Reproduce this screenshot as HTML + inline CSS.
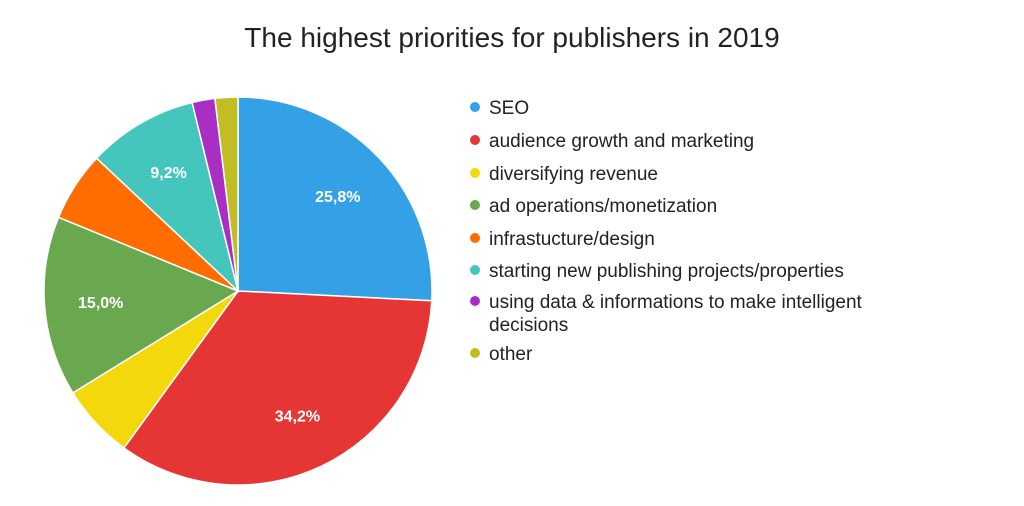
<!DOCTYPE html>
<html><head><meta charset="utf-8"><style>
body{margin:0;background:#fff;width:1024px;height:501px;overflow:hidden;font-family:"Liberation Sans",sans-serif}
</style></head><body>
<svg width="1024" height="501">
<text x="512" y="47" text-anchor="middle" font-size="28" fill="#222">The highest priorities for publishers in 2019</text>
<g id="slices"></g><g id="labels"></g><g id="legend"></g>
</svg>
<script>
const categories=["SEO","audience growth and marketing","diversifying revenue","ad operations/monetization","infrastucture/design","starting new publishing projects/properties","using data & informations to make intelligent decisions","other"];
const values=[25.8,34.2,6.2,15.0,5.8,9.2,1.9,1.9];
const labelText=["25,8%","34,2%","","15,0%","","9,2%","",""];
const colors=["#34a0e6","#e63535","#f3d80b","#6aa84f","#ff6d00","#45c6bc","#a92fc4","#c3bd24"];
const cx=238,cy=291,R=194,NS="http://www.w3.org/2000/svg";
const total=values.reduce((a,b)=>a+b,0);
const pt=(a,r)=>[cx+r*Math.sin(a),cy-r*Math.cos(a)];
let acc=0;
const sg=document.getElementById('slices'),lg=document.getElementById('labels');
values.forEach((v,i)=>{
  const a0=acc/total*2*Math.PI;acc+=v;const a1=acc/total*2*Math.PI;
  const [x0,y0]=pt(a0,R),[x1,y1]=pt(a1,R);
  const p=document.createElementNS(NS,'path');
  p.setAttribute('d',`M${cx},${cy}L${x0},${y0}A${R},${R} 0 ${a1-a0>Math.PI?1:0} 1 ${x1},${y1}Z`);
  p.setAttribute('fill',colors[i]);p.setAttribute('stroke','#fff');p.setAttribute('stroke-width','1.5');
  
  
  sg.appendChild(p);
  if(labelText[i]){
    const [lx,ly]=pt((a0+a1)/2,R*0.71);
    const t=document.createElementNS(NS,'text');
    t.setAttribute('x',lx);t.setAttribute('y',ly+6);t.setAttribute('text-anchor','middle');
    t.setAttribute('font-size','16');t.setAttribute('fill','#fff');t.setAttribute('font-weight','bold');
    t.textContent=labelText[i];
    
    
    lg.appendChild(t);
  }
});
const leg=document.getElementById('legend');
const rows=[[107],[140],[173],[205],[238],[270],[301,324],[353]];
categories.forEach((c,i)=>{
  const g=document.createElementNS(NS,'g');
  
  
  const d=document.createElementNS(NS,'circle');
  d.setAttribute('cx',475);d.setAttribute('cy',rows[i][0]);d.setAttribute('r',5);d.setAttribute('fill',colors[i]);
  g.appendChild(d);
  const lines=i===6?["using data & informations to make intelligent","decisions"]:[c];
  lines.forEach((l,j)=>{
    const t=document.createElementNS(NS,'text');
    t.setAttribute('x',489);t.setAttribute('y',rows[i][j]+7);t.setAttribute('font-size','19');t.setAttribute('fill','#222');
    t.textContent=l;g.appendChild(t);
  });
  leg.appendChild(g);
});
</script>
</body></html>
